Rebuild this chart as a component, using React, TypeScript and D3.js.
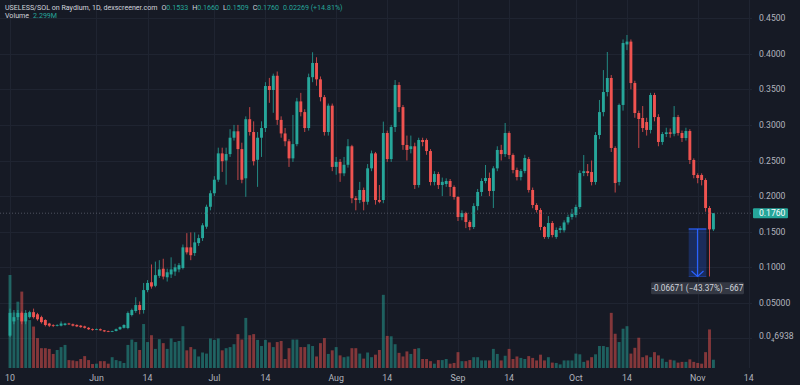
import React from "react";
import * as d3 from "d3";

const startDay = Date.UTC(2025, 4, 10);
const DAY = 86400000;

const opens = [0.004,0.024,0.030,0.036,0.024,0.030,0.037,0.034,0.030,0.026,
0.021,0.019,0.018,0.018,0.019,0.021,0.020,0.019,0.018,0.017,
0.015,0.013,0.0125,0.013,0.0115,0.0102,0.0098,0.0105,0.013,0.015,
0.0147,0.033,0.0386,0.047,0.040,0.068,0.079,0.074,0.088,0.098,
0.086,0.090,0.094,0.097,0.099,0.128,0.128,0.120,0.134,0.141,
0.157,0.185,0.204,0.223,0.260,0.250,0.259,0.282,0.291,0.266,
0.225,0.308,0.290,0.251,0.282,0.2956,0.3546,0.349,0.369,0.307,
0.288,0.277,0.253,0.273,0.333,0.318,0.2956,0.367,0.387,0.364,
0.339,0.290,0.327,0.241,0.248,0.232,0.244,0.270,0.197,0.1945,
0.2086,0.192,0.239,0.260,0.1945,0.1945,0.2886,0.252,0.297,0.356,
0.325,0.2718,0.266,0.270,0.2156,0.2788,0.2788,0.2633,0.2198,0.231,
0.2156,0.217,0.2212,0.2128,0.1987,0.1706,0.1763,0.1636,0.1566,0.186,
0.2058,0.2212,0.2254,0.2072,0.239,0.2648,0.259,0.2886,0.2577,0.2367,
0.2268,0.2352,0.252,0.2086,0.1875,0.1805,0.1566,0.1426,0.1622,0.1426,
0.1524,0.152,0.163,0.1706,0.1735,0.1847,0.2324,0.235,0.2338,0.2198,
0.2858,0.318,0.3462,0.3659,0.2676,0.2198,0.328,0.413,0.417,0.3588,
0.3167,0.3097,0.304,0.2929,0.342,0.311,0.276,0.2872,0.2895,0.2875,
0.311,0.2886,0.2816,0.2914,0.2507,0.2296,0.2296,0.2226,0.1833,0.1533];

const highs = [0.042,0.040,0.040,0.038,0.040,0.039,0.042,0.036,0.032,0.027,
0.022,0.020,0.020,0.024,0.022,0.022,0.021,0.020,0.019,0.018,
0.016,0.014,0.014,0.014,0.012,0.011,0.011,0.014,0.017,0.020,
0.038,0.042,0.058,0.052,0.078,0.082,0.104,0.108,0.110,0.112,
0.098,0.114,0.105,0.106,0.132,0.148,0.149,0.149,0.146,0.162,
0.188,0.208,0.228,0.268,0.268,0.268,0.294,0.300,0.300,0.275,
0.312,0.325,0.305,0.290,0.305,0.360,0.366,0.372,0.375,0.312,
0.2956,0.280,0.314,0.338,0.345,0.322,0.372,0.402,0.395,0.368,
0.342,0.330,0.330,0.255,0.252,0.255,0.280,0.272,0.200,0.220,
0.212,0.245,0.264,0.262,0.2156,0.3046,0.292,0.300,0.363,0.360,
0.328,0.285,0.285,0.275,0.282,0.282,0.281,0.266,0.235,0.234,
0.226,0.225,0.224,0.215,0.200,0.180,0.178,0.166,0.190,0.210,
0.225,0.2437,0.233,0.242,0.270,0.272,0.3027,0.291,0.260,0.240,
0.238,0.258,0.255,0.212,0.190,0.183,0.158,0.172,0.165,0.156,
0.158,0.166,0.174,0.182,0.188,0.236,0.2577,0.245,0.250,0.290,
0.335,0.377,0.4024,0.370,0.270,0.330,0.420,0.4263,0.420,0.362,
0.320,0.3265,0.310,0.345,0.345,0.315,0.290,0.296,0.295,0.3265,
0.314,0.292,0.296,0.294,0.253,0.232,0.232,0.225,0.186,0.1760];

const lows = [0.002,0.020,0.026,0.020,0.020,0.028,0.028,0.025,0.021,0.017,
0.016,0.016,0.017,0.017,0.018,0.019,0.017,0.016,0.015,0.014,
0.012,0.011,0.012,0.011,0.009,0.009,0.009,0.010,0.012,0.014,
0.013,0.031,0.036,0.034,0.035,0.065,0.070,0.072,0.085,0.083,
0.080,0.085,0.088,0.093,0.097,0.118,0.110,0.116,0.130,0.137,
0.154,0.180,0.200,0.220,0.234,0.216,0.255,0.278,0.2226,0.218,
0.199,0.285,0.243,0.213,0.255,0.290,0.331,0.317,0.300,0.282,
0.270,0.241,0.248,0.270,0.312,0.290,0.292,0.360,0.355,0.333,
0.285,0.285,0.235,0.230,0.220,0.228,0.240,0.190,0.180,0.190,
0.180,0.188,0.235,0.188,0.190,0.190,0.248,0.248,0.290,0.318,
0.265,0.250,0.260,0.210,0.212,0.270,0.258,0.215,0.215,0.210,
0.200,0.213,0.200,0.195,0.165,0.166,0.155,0.152,0.1538,0.180,
0.200,0.218,0.200,0.1833,0.235,0.250,0.255,0.252,0.232,0.222,
0.222,0.232,0.205,0.183,0.177,0.152,0.140,0.140,0.142,0.140,
0.148,0.149,0.160,0.167,0.170,0.182,0.228,0.228,0.215,0.216,
0.280,0.312,0.340,0.262,0.205,0.215,0.320,0.405,0.350,0.310,
0.2676,0.290,0.285,0.288,0.305,0.270,0.272,0.283,0.282,0.284,
0.285,0.276,0.278,0.245,0.225,0.218,0.215,0.178,0.0871,0.1509];

const closes = [0.036,0.030,0.036,0.024,0.036,0.037,0.030,0.027,0.023,0.019,
0.018,0.018,0.019,0.021,0.021,0.020,0.018,0.017,0.016,0.015,
0.013,0.0125,0.013,0.0115,0.010,0.0098,0.0105,0.013,0.016,0.019,
0.0358,0.040,0.047,0.040,0.068,0.078,0.073,0.089,0.097,0.087,
0.093,0.097,0.100,0.103,0.128,0.121,0.117,0.135,0.141,0.159,
0.185,0.204,0.223,0.260,0.249,0.259,0.282,0.291,0.266,0.223,
0.308,0.290,0.249,0.282,0.2956,0.3546,0.349,0.369,0.307,0.288,
0.277,0.253,0.273,0.333,0.318,0.2956,0.367,0.387,0.364,0.339,
0.290,0.327,0.241,0.248,0.232,0.244,0.270,0.197,0.1945,0.2086,
0.192,0.239,0.260,0.1945,0.192,0.2886,0.252,0.297,0.356,0.325,
0.2718,0.2648,0.270,0.2156,0.2788,0.276,0.2633,0.2198,0.231,0.2156,
0.220,0.2212,0.2128,0.1987,0.1706,0.1763,0.1636,0.1566,0.186,0.2058,
0.2212,0.2254,0.2072,0.239,0.2648,0.259,0.2886,0.2577,0.2367,0.2268,
0.2352,0.2535,0.2086,0.1875,0.1805,0.1566,0.1426,0.1622,0.1454,0.1524,
0.155,0.163,0.1706,0.175,0.1847,0.2324,0.235,0.2324,0.2198,0.2858,
0.318,0.3462,0.3659,0.2676,0.2184,0.328,0.415,0.417,0.3588,0.3167,
0.3083,0.2956,0.2929,0.342,0.311,0.276,0.2872,0.2895,0.2875,0.311,
0.2886,0.2816,0.2914,0.2507,0.2296,0.2254,0.2226,0.1833,0.1533,0.1760];

// volume in millions
const volumes = [25.8,15.4,18.4,21.2,14.7,13.3,11.5,8.3,5.5,5.5,
5.3,3.9,5.0,5.8,6.4,2.2,2.1,1.9,2.5,3.3,
2.2,1.1,1.2,1.9,1.9,1.2,3.0,2.2,1.9,1.4,
6.4,7.9,7.2,5.0,12.2,7.2,9.1,5.3,8.0,6.9,
5.3,8.2,7.2,7.5,11.6,4.9,5.8,5.2,3.2,4.3,
4.0,8.2,7.8,8.2,4.9,5.5,5.8,6.6,9.4,7.9,
13.9,9.1,9.4,7.8,6.1,7.8,7.1,5.8,7.2,7.5,
2.5,5.5,7.9,7.9,5.8,5.8,6.6,6.1,3.2,6.9,
8.3,3.9,4.9,5.8,3.5,3.0,3.2,5.5,5.5,4.0,
2.6,4.3,3.0,3.7,5.0,20.3,8.9,8.8,6.6,4.2,
3.2,4.6,3.9,5.3,5.5,2.5,2.5,1.9,1.2,2.2,
2.2,2.5,1.2,1.4,4.4,1.9,1.9,2.2,3.0,3.0,
2.1,2.1,2.1,5.3,3.9,2.1,3.4,5.3,2.5,3.2,
2.8,2.5,3.3,2.8,2.1,3.7,2.1,3.0,1.5,1.4,
1.0,2.1,2.1,2.1,4.0,3.8,1.7,2.1,3.0,3.8,
6.1,6.1,5.8,15.3,9.5,7.2,10.9,11.6,4.0,5.6,
8.4,3.0,3.5,3.0,4.4,3.5,2.6,1.7,2.3,2.1,
1.5,1.7,1.7,2.4,1.7,1.4,1.2,4.4,10.7,2.3];

const priceTicks = [0.45, 0.4, 0.35, 0.3, 0.25, 0.2, 0.15, 0.1, 0.05];
const priceTickLabels = ["0.4500","0.4000","0.3500","0.3000","0.2500","0.2000","0.1500","0.1000","0.05000"];
const lowTick = 0.00006938;

const dateTicks = [
  Date.UTC(2025,4,10), Date.UTC(2025,5,1), Date.UTC(2025,5,14), Date.UTC(2025,6,1),
  Date.UTC(2025,6,14), Date.UTC(2025,7,1), Date.UTC(2025,7,14), Date.UTC(2025,8,1),
  Date.UTC(2025,8,14), Date.UTC(2025,9,1), Date.UTC(2025,9,14), Date.UTC(2025,10,1),
  Date.UTC(2025,10,14)];
const dateTickLabels = ["10","Jun","14","Jul","14","Aug","14","Sep","14","Oct","14","Nov","14"];

const lastPrice = 0.1760;
const lastPriceLabel = "0.1760";
const measure = { fromDay: 172.7, toDay: 177.2, fromPrice: 0.15382, toPrice: 0.08711, text: "-0.06671 (−43.37%) −667" };

const W = 800, H = 385;
const UP = "#26a69a", DOWN = "#ef5350";
const BG = "#161a25";
const GRID = "#1f2431";
const AXIS_TEXT = "#b2b5be";
const FONT = "Roboto, 'Noto Sans', sans-serif";

export default function App() {
  const x = d3.scaleUtc().domain([new Date(startDay), new Date(dateTicks[dateTicks.length - 1])]).range([10, 748.8]);
  const y = d3.scaleLinear().domain([0, 0.45]).range([338.5, 18.1]);
  const v = d3.scaleLinear().domain([0, d3.max(volumes) as number]).range([368, 275]);
  const plotRight = 752;
  const dayX = (i: number) => x(new Date(startDay + i * DAY));
  const bw = 2.9;

  const candles = opens.map((o, i) => ({ o, h: highs[i], l: lows[i], c: closes[i], vol: volumes[i], i }));

  return (
    <div style={{ position: "absolute", left: 0, top: 0, width: W, height: H }}>
      <svg width={W} height={H} style={{ display: "block", fontFamily: FONT }}>
        <rect x={0} y={0} width={W} height={H} fill={BG} />
        {/* horizontal grid */}
        {[...priceTicks, lowTick].map((p, k) => (
          <line key={"hg" + k} x1={0} x2={plotRight} y1={Math.round(y(p)) + 0.5} y2={Math.round(y(p)) + 0.5} stroke={GRID} strokeWidth={1} />
        ))}
        {/* vertical grid */}
        {dateTicks.map((t, k) => (
          <line key={"vg" + k} x1={Math.round(x(new Date(t))) + 0.5} x2={Math.round(x(new Date(t))) + 0.5} y1={0} y2={368} stroke={GRID} strokeWidth={1} />
        ))}
        {/* volume */}
        {candles.map((d) => (
          <rect key={"v" + d.i} x={dayX(d.i) - bw / 2} width={bw} y={v(d.vol)} height={v(0) - v(d.vol)}
            fill={d.c >= d.o ? UP : DOWN} fillOpacity={0.5} />
        ))}
        {/* candles */}
        {candles.map((d) => {
          const cx = dayX(d.i);
          const col = d.c >= d.o ? UP : DOWN;
          const top = y(Math.max(d.o, d.c));
          const bot = y(Math.min(d.o, d.c));
          return (
            <g key={"c" + d.i}>
              <line x1={cx} x2={cx} y1={y(d.h)} y2={y(d.l)} stroke={col} strokeWidth={0.8} />
              <rect x={cx - bw / 2} width={bw} y={top} height={Math.max(0.8, bot - top)} fill={col} />
            </g>
          );
        })}
        {/* last price dotted line */}
        <line x1={0} x2={plotRight} y1={y(lastPrice)} y2={y(lastPrice)} stroke="#5d6270" strokeWidth={0.8} strokeDasharray="1 2" />
        {/* measurement tool */}
        {(() => {
          const x0 = dayX(measure.fromDay), x1 = dayX(measure.toDay);
          const y0 = y(measure.fromPrice), y1 = y(measure.toPrice);
          const cx = (x0 + x1) / 2;
          return (
            <g>
              <rect x={x0} y={y0} width={x1 - x0} height={y1 - y0} fill="#2962ff" fillOpacity={0.25} />
              <line x1={x0} x2={x1} y1={y0} y2={y0} stroke="#2962ff" strokeWidth={1.2} />
              <line x1={cx} x2={cx} y1={y0} y2={y1} stroke="#2962ff" strokeWidth={1.2} />
              <polyline points={`${cx - 6},${y1 - 5.5} ${cx},${y1} ${cx + 6},${y1 - 5.5}`} fill="none" stroke="#2962ff" strokeWidth={1.2} />
              <line x1={x0} x2={x1} y1={y1} y2={y1} stroke="#2962ff" strokeWidth={0.6} strokeOpacity={0.7} />
              <rect x={cx - 46.5} y={y1 + 5.8} width={93} height={12} rx={1.5} fill="#363a45" fillOpacity={0.95} />
              <text x={cx} y={y1 + 14.8} textAnchor="middle" fontSize={8.2} fill="#d1d4dc">{measure.text}</text>
            </g>
          );
        })()}
        {/* price axis labels */}
        {priceTicks.map((p, k) => (
          <text key={"pl" + k} x={759} y={y(p) + 3} fontSize={8.6} fill={AXIS_TEXT}>{priceTickLabels[k]}</text>
        ))}
        <text x={759} y={y(lowTick) + 1} fontSize={8.6} fill={AXIS_TEXT}>
          0.0<tspan fontSize={6} dy={2.5}>4</tspan><tspan dy={-2.5}>6938</tspan>
        </text>
        {/* last price label */}
        <rect x={753} y={y(lastPrice) - 5} width={35} height={10} rx={1} fill={UP} />
        <text x={759} y={y(lastPrice) + 3} fontSize={8.6} fill="#ffffff">{lastPriceLabel}</text>
        {/* date labels */}
        {dateTicks.map((t, k) => (
          <text key={"dl" + k} x={x(new Date(t))} y={380.5} textAnchor="middle" fontSize={8.8} fill={AXIS_TEXT}>{dateTickLabels[k]}</text>
        ))}
        {/* header */}
        <text x={5} y={9.5} fontSize={7.1} fill="#d1d4dc">
          USELESS/SOL on Raydium, 1D, dexscreener.com
          <tspan dx={4}>O</tspan><tspan fill={UP}>0.1533</tspan>
          <tspan dx={4}>H</tspan><tspan fill={UP}>0.1660</tspan>
          <tspan dx={4}>L</tspan><tspan fill={UP}>0.1509</tspan>
          <tspan dx={4}>C</tspan><tspan fill={UP}>0.1760</tspan>
          <tspan dx={4} fill={UP}>0.02269 (+14.81%)</tspan>
        </text>
        <text x={5} y={18} fontSize={7.1} fill="#d1d4dc">
          Volume<tspan dx={4} fill={UP}>2.299M</tspan>
        </text>
      </svg>
    </div>
  );
}
